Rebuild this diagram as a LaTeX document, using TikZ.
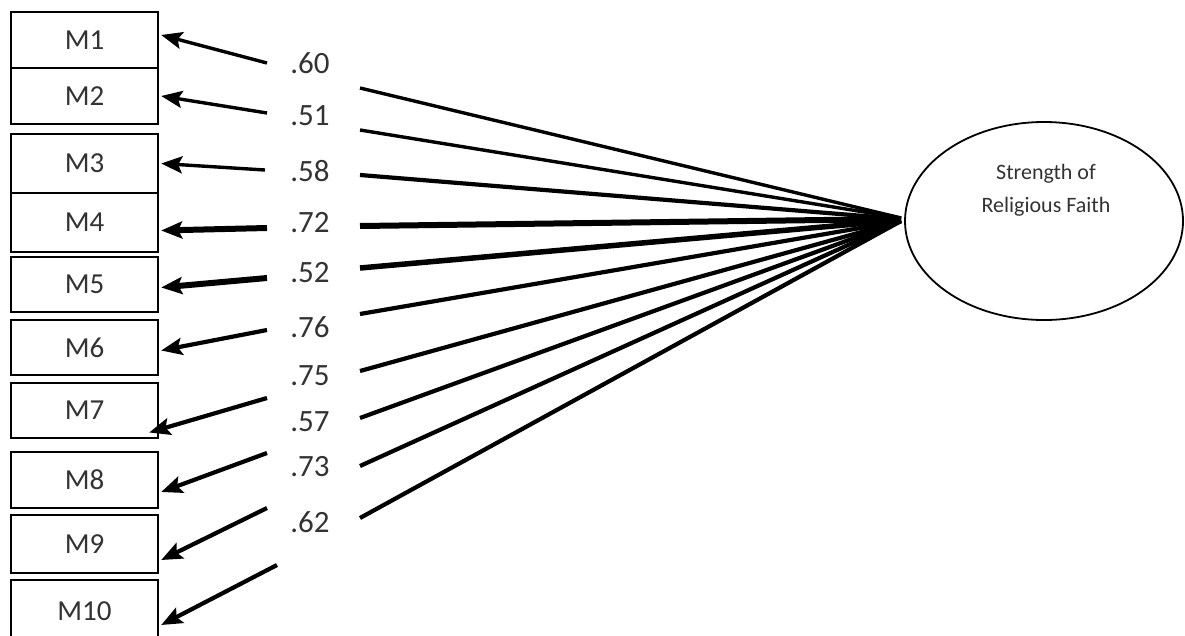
\documentclass[tikz,border=0pt]{standalone}
\usepackage{fontspec}
\setmainfont{Carlito}
\usetikzlibrary{arrows.meta,shapes.geometric}
\definecolor{txt}{HTML}{333333}
\tikzset{
  mbox/.style={draw=black, line width=2.4pt, minimum width=147pt, inner sep=0pt, font=\fontsize{29}{29}\selectfont, text=txt},
  lab/.style={font=\fontsize{31}{31}\selectfont, text=txt, inner sep=0pt},
  arr/.style={-{Stealth[length=21pt,width=17pt,inset=4pt]}, line width=4.2pt},
  ln/.style={line width=4.2pt},
}
\begin{document}
\begin{tikzpicture}[x=1pt,y=-1pt]
\useasboundingbox (0,0) rectangle (1185,635);
% boxes
\node[mbox, minimum height=56pt] (M1) at (84.5,40) {M1};
\node[mbox, minimum height=56pt] (M2) at (84.5,96) {M2};
\node[mbox, minimum height=59pt] (M3) at (84.5,163.5) {M3};
\node[mbox, minimum height=59pt] (M4) at (84.5,222.5) {M4};
\node[mbox, minimum height=55pt] (M5) at (84.5,284.5) {M5};
\node[mbox, minimum height=55pt] (M6) at (84.5,347.5) {M6};
\node[mbox, minimum height=55pt] (M7) at (84.5,410.5) {M7};
\node[mbox, minimum height=56pt] (M8) at (84.5,480) {M8};
\node[mbox, minimum height=58pt] (M9) at (84.5,544) {M9};
\node[mbox, minimum height=62pt] (M10) at (84.5,611) {M10};
% ellipse
\node[draw=black, line width=1.8pt, ellipse, minimum width=278pt, minimum height=198pt, inner sep=0pt] (F) at (1044,221) {};
\node[font=\fontsize{22}{33}\selectfont, text=txt, align=center, inner sep=0pt] (Ft) at (1046,190) {Strength of\\Religious Faith};
% labels
\node[lab] (l1) at (310,63) {.60};
\node[lab] (l2) at (310,116) {.51};
\node[lab] (l3) at (310,171) {.58};
\node[lab] (l4) at (310,223) {.72};
\node[lab] (l5) at (310,273) {.52};
\node[lab] (l6) at (310,327) {.76};
\node[lab] (l7) at (310,376) {.75};
\node[lab] (l8) at (310,422) {.57};
\node[lab] (l9) at (310,467) {.73};
\node[lab] (l10) at (310,522) {.62};
% left arrow starts
\coordinate (a1) at (267,63);
\coordinate (a2) at (267,113);
\coordinate (a3) at (265,170);
\coordinate (a4) at (267,228);
\coordinate (a5) at (267,278);
\coordinate (a6) at (267,330);
\coordinate (a7) at (267,398);
\coordinate (a8) at (267,453);
\coordinate (a9) at (267,508);
\coordinate (a10) at (277,565);
% right line starts
\coordinate (b1) at (360,88);
\coordinate (b2) at (360,130);
\coordinate (b3) at (360,175);
\coordinate (b4) at (360,226);
\coordinate (b5) at (360,268);
\coordinate (b6) at (360,314);
\coordinate (b7) at (360,371);
\coordinate (b8) at (360,418);
\coordinate (b9) at (360,466);
\coordinate (b10) at (360,518);
% arrows to boxes
\draw[arr, line width=3.4pt] (a1) -- ([yshift=5pt,xshift=2pt]M1.east);
\draw[arr, line width=3.4pt] (a2) -- ([xshift=2pt]M2.east);
\draw[arr, line width=3.4pt] (a3) -- ([xshift=2pt]M3.east);
\draw[arr, line width=6pt] (a4) -- ([yshift=-8pt,xshift=2pt]M4.east);
\draw[arr, line width=6pt] (a5) -- ([yshift=-3pt,xshift=2pt]M5.east);
\draw[arr] (a6) -- ([yshift=-3pt,xshift=2pt]M6.east);
\draw[arr] (a7) -- ([yshift=-22pt,xshift=-10pt]M7.east);
\draw[arr] (a8) -- ([yshift=-12pt,xshift=2pt]M8.east);
\draw[arr] (a9) -- ([yshift=-16pt,xshift=2pt]M9.east);
\draw[arr] (a10) -- ([yshift=-14pt,xshift=2pt]M10.east);
% lines from factor
\draw[ln, line width=3.4pt] (b1) -- ([xshift=-3pt,yshift=3pt]F.west);
\draw[ln, line width=3.4pt] (b2) -- ([xshift=-3pt,yshift=3pt]F.west);
\draw[ln] (b3) -- ([xshift=-3pt,yshift=2pt]F.west);
\draw[ln, line width=6pt] (b4) -- ([xshift=-3pt,yshift=2pt]F.west);
\draw[ln, line width=5.5pt] (b5) -- ([xshift=-3pt,yshift=1pt]F.west);
\draw[ln] (b6) -- ([xshift=-3pt]F.west);
\draw[ln] (b7) -- ([xshift=-3pt]F.west);
\draw[ln] (b8) -- ([xshift=-3pt]F.west);
\draw[ln] (b9) -- ([xshift=-3pt]F.west);
\draw[ln] (b10) -- ([xshift=-3pt]F.west);
\end{tikzpicture}
\end{document}
